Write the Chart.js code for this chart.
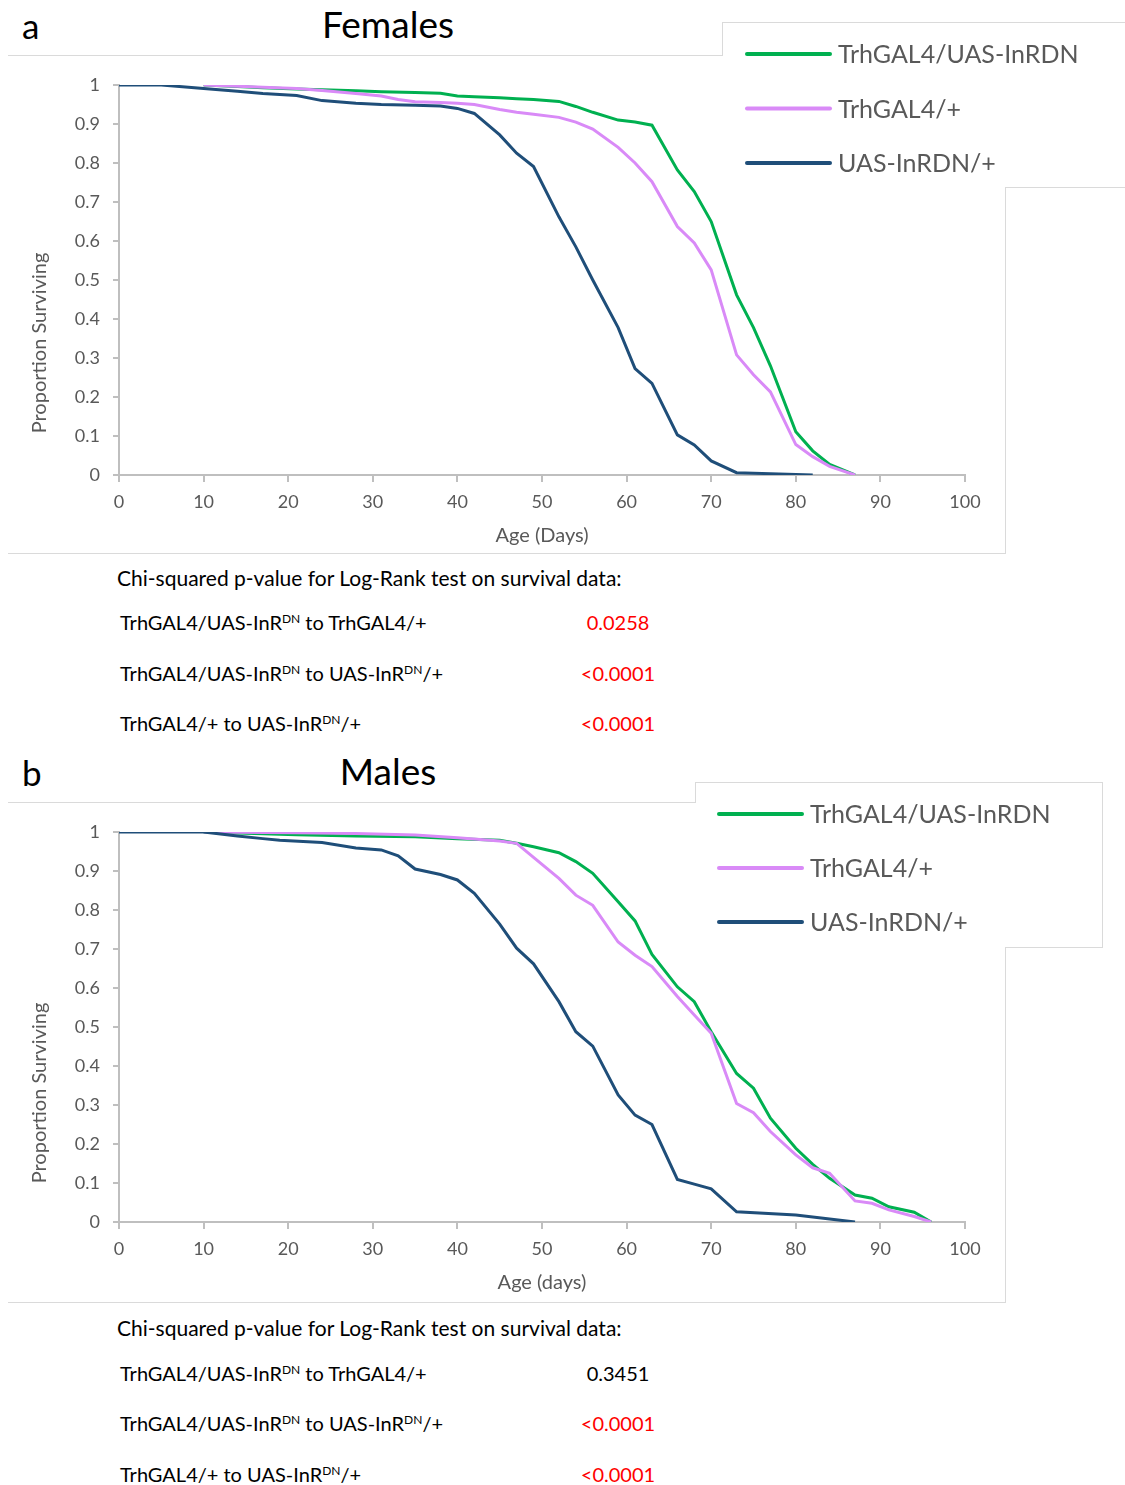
<!DOCTYPE html>
<html>
<head>
<meta charset="utf-8">
<script src="https://cdn.jsdelivr.net/npm/chart.js@4.4.0/dist/chart.umd.min.js"></script>
<style>
  body { margin: 0; background: #fff; font-family: Lato, "Open Sans", sans-serif; }
  #page { position: relative; width: 1125px; height: 1485px; overflow: hidden; background: #fff; }
  .box { position: absolute; border: 1px solid #dadada; box-sizing: border-box; }
  .box.open { border-left: none; }
  .fill { position: absolute; background: #fff; }
  .wrap { position: absolute; left: 0; width: 1125px; height: 560px; }
  .letter, .ptitle { position: absolute; font-size: 35px; line-height: 40px; color: #000; }
  .ptitle { width: 300px; text-align: center; font-size: 37px; }
  .line { position: absolute; height: 26px; line-height: 26px; font-size: 20px; color: #000; white-space: nowrap; }
  .val { position: absolute; width: 140px; text-align: center; height: 26px; line-height: 26px; font-size: 20px; }
  .red { color: #ff0000; }
  sup { font-size: 12px; vertical-align: 7px; line-height: 0; }
</style>
</head>
<body>
<div id="page">
  <!-- a : females (outline of chart box + legend box) -->
  <div class="box open" style="left:8px;top:55px;width:998px;height:499px;"></div>
  <div class="box" style="left:722px;top:22px;width:420px;height:166px;"></div>
  <div class="fill" style="left:8px;top:56px;width:997px;height:497px;"></div>
  <div class="fill" style="left:723px;top:23px;width:418px;height:164px;"></div>
  <div class="letter" style="left:22px;top:5px;">a</div>
  <div class="ptitle" style="left:238px;top:4px;">Females</div>
  <div class="wrap" style="top:0px;"><canvas id="females"></canvas></div>

  <div class="line" style="left:117px;top:565px;font-size:21px;">Chi-squared p-value for Log-Rank test on survival data:</div>
  <div class="line" style="left:120px;top:609px;">TrhGAL4/UAS-InR<sup>DN</sup> to TrhGAL4/+</div>
  <div class="val red" style="left:548px;top:609px;">0.0258</div>
  <div class="line" style="left:120px;top:660px;">TrhGAL4/UAS-InR<sup>DN</sup> to UAS-InR<sup>DN</sup>/+</div>
  <div class="val red" style="left:548px;top:660px;">&lt;0.0001</div>
  <div class="line" style="left:120px;top:710px;">TrhGAL4/+ to UAS-InR<sup>DN</sup>/+</div>
  <div class="val red" style="left:548px;top:710px;">&lt;0.0001</div>

  <!-- b : males -->
  <div class="box open" style="left:8px;top:802px;width:998px;height:501px;"></div>
  <div class="box" style="left:695px;top:782px;width:408px;height:166px;"></div>
  <div class="fill" style="left:8px;top:803px;width:997px;height:499px;"></div>
  <div class="fill" style="left:696px;top:783px;width:406px;height:164px;"></div>
  <div class="letter" style="left:22px;top:752px;">b</div>
  <div class="ptitle" style="left:238px;top:751px;">Males</div>
  <div class="wrap" style="top:747px;"><canvas id="males"></canvas></div>

  <div class="line" style="left:117px;top:1315px;font-size:21px;">Chi-squared p-value for Log-Rank test on survival data:</div>
  <div class="line" style="left:120px;top:1360px;">TrhGAL4/UAS-InR<sup>DN</sup> to TrhGAL4/+</div>
  <div class="val" style="left:548px;top:1360px;">0.3451</div>
  <div class="line" style="left:120px;top:1410px;">TrhGAL4/UAS-InR<sup>DN</sup> to UAS-InR<sup>DN</sup>/+</div>
  <div class="val red" style="left:548px;top:1410px;">&lt;0.0001</div>
  <div class="line" style="left:120px;top:1461px;">TrhGAL4/+ to UAS-InR<sup>DN</sup>/+</div>
  <div class="val red" style="left:548px;top:1461px;">&lt;0.0001</div>
</div>

<script>
// series names
const seriesLabels = ["TrhGAL4/UAS-InRDN", "TrhGAL4/+", "UAS-InRDN/+"];

// females - TrhGAL4/UAS-InRDN
const femExpDays = [10, 14, 17, 21, 24, 28, 31, 35, 38, 40, 42, 45, 47, 49, 52, 54, 56, 59, 61, 63, 66, 68, 70, 73, 75, 77, 80, 82, 84, 87];
const femExpSurv = [1, 0.996, 0.993, 0.99, 0.988, 0.985, 0.983, 0.981, 0.979, 0.972, 0.97, 0.967, 0.965, 0.963, 0.958, 0.945, 0.93, 0.91, 0.905, 0.897, 0.782, 0.727, 0.65, 0.462, 0.378, 0.28, 0.111, 0.062, 0.027, 0];
// females - TrhGAL4/+
const femGalDays = [10, 14, 17, 21, 24, 28, 31, 33, 35, 38, 40, 42, 45, 47, 49, 52, 54, 56, 59, 61, 63, 66, 68, 70, 73, 75, 77, 80, 82, 84, 87];
const femGalSurv = [1, 0.997, 0.994, 0.991, 0.986, 0.978, 0.972, 0.963, 0.957, 0.955, 0.953, 0.95, 0.937, 0.93, 0.925, 0.917, 0.905, 0.887, 0.84, 0.8, 0.752, 0.637, 0.595, 0.526, 0.308, 0.257, 0.213, 0.078, 0.047, 0.022, 0];
// females - UAS-InRDN/+
const femUasDays = [0, 5, 10, 14, 17, 21, 24, 28, 31, 35, 38, 40, 42, 45, 47, 49, 52, 54, 56, 59, 61, 63, 66, 68, 70, 73, 82];
const femUasSurv = [1, 1, 0.991, 0.984, 0.978, 0.973, 0.96, 0.953, 0.95, 0.948, 0.946, 0.94, 0.927, 0.872, 0.825, 0.791, 0.662, 0.585, 0.5, 0.378, 0.273, 0.235, 0.103, 0.077, 0.036, 0.006, 0];

// males - TrhGAL4/UAS-InRDN
const maleExpDays = [10, 21, 28, 35, 40, 45, 47, 49, 52, 54, 56, 59, 61, 63, 66, 68, 70, 73, 75, 77, 80, 82, 84, 87, 89, 91, 94, 96];
const maleExpSurv = [1, 0.993, 0.99, 0.988, 0.983, 0.979, 0.971, 0.962, 0.947, 0.924, 0.894, 0.821, 0.772, 0.686, 0.603, 0.565, 0.488, 0.381, 0.343, 0.266, 0.189, 0.148, 0.112, 0.069, 0.061, 0.039, 0.025, 0];
// males - TrhGAL4/+
const maleGalDays = [10, 21, 28, 35, 40, 45, 47, 49, 52, 54, 56, 59, 61, 63, 66, 68, 70, 73, 75, 77, 80, 82, 84, 87, 89, 91, 94, 96];
const maleGalSurv = [1, 0.998, 0.996, 0.992, 0.985, 0.977, 0.971, 0.935, 0.881, 0.838, 0.812, 0.718, 0.684, 0.655, 0.578, 0.531, 0.484, 0.304, 0.28, 0.232, 0.172, 0.139, 0.125, 0.054, 0.048, 0.031, 0.014, 0];
// males - UAS-InRDN/+
const maleUasDays = [0, 10, 14, 17, 19, 24, 28, 31, 33, 35, 38, 40, 42, 45, 47, 49, 52, 54, 56, 59, 61, 63, 66, 68, 70, 73, 80, 87];
const maleUasSurv = [1, 1, 0.99, 0.983, 0.979, 0.973, 0.959, 0.954, 0.939, 0.905, 0.891, 0.877, 0.843, 0.764, 0.702, 0.662, 0.565, 0.488, 0.451, 0.326, 0.274, 0.25, 0.109, 0.097, 0.085, 0.026, 0.018, 0];

const lineColors = ["#00b050", "#d98af7", "#1f4e79"];

const FONT = "Lato, 'Open Sans', sans-serif";
const GREY_TEXT = "#595959";
const GREY_AXIS = "#bfbfbf";

function toPoints(days, surv) {
  return days.map((d, i) => ({ x: d, y: surv[i] }));
}

// legend drawn at a fixed spot, like the excel legend box
const boxLegend = {
  id: "boxLegend",
  afterDraw(chart, args, opts) {
    const ctx = chart.ctx;
    ctx.save();
    chart.data.datasets.forEach((ds, i) => {
      const y = opts.y + i * opts.step;
      ctx.strokeStyle = ds.borderColor;
      ctx.lineWidth = 4;
      ctx.lineCap = "round";
      ctx.beginPath();
      ctx.moveTo(opts.x, y);
      ctx.lineTo(opts.x + 83, y);
      ctx.stroke();
      ctx.fillStyle = GREY_TEXT;
      ctx.font = "25px " + FONT;
      ctx.textBaseline = "middle";
      ctx.fillText(ds.label, opts.x + 91, y + 1);
    });
    ctx.restore();
  }
};

// y axis title sits lower than the middle of the axis in the original
const yTitle = {
  id: "yTitle",
  afterDraw(chart, args, opts) {
    const ctx = chart.ctx;
    ctx.save();
    ctx.translate(opts.x, opts.y);
    ctx.rotate(-Math.PI / 2);
    ctx.fillStyle = GREY_TEXT;
    ctx.font = "20px " + FONT;
    ctx.textAlign = "center";
    ctx.textBaseline = "middle";
    ctx.fillText("Proportion Surviving", 0, 0);
    ctx.restore();
  }
};

function drawSurvival(canvasId, sets, xTitle, legendPos, yTitlePos) {
  const datasets = sets.map((s, i) => ({
    label: seriesLabels[i],
    data: toPoints(s[0], s[1]),
    borderColor: lineColors[i],
    backgroundColor: lineColors[i],
    borderWidth: 3,
    pointRadius: 0,
    tension: 0,
    fill: false,
    order: 2 - i
  }));

  new Chart(document.getElementById(canvasId), {
    type: "line",
    data: { datasets },
    plugins: [boxLegend, yTitle],
    options: {
      responsive: true,
      maintainAspectRatio: false,
      animation: false,
      layout: { padding: { top: 85, right: 160, left: 0, bottom: 0 } },
      plugins: {
        legend: { display: false },
        tooltip: { enabled: false },
        boxLegend: legendPos,
        yTitle: yTitlePos
      },
      scales: {
        x: {
          type: "linear",
          min: 0,
          max: 100,
          ticks: { stepSize: 10, color: GREY_TEXT, font: { family: FONT, size: 18 }, padding: 9, maxRotation: 0 },
          grid: { drawOnChartArea: false, tickLength: 7, color: GREY_AXIS, lineWidth: 2 },
          border: { color: GREY_AXIS, width: 2 },
          title: { display: true, text: xTitle, color: GREY_TEXT, font: { family: FONT, size: 20 }, padding: { top: 0, bottom: 12 } },
          afterFit(scale) { scale.height = 85; }
        },
        y: {
          min: 0,
          max: 1,
          ticks: {
            stepSize: 0.1,
            color: GREY_TEXT,
            font: { family: FONT, size: 18 },
            padding: 13,
            callback: v => String(Number(v.toFixed(1)))
          },
          grid: { drawOnChartArea: false, tickLength: 6, color: GREY_AXIS, lineWidth: 2 },
          border: { color: GREY_AXIS, width: 2 },
          afterFit(scale) { scale.width = 119; }
        }
      }
    }
  });
}

drawSurvival("females",
  [[femExpDays, femExpSurv], [femGalDays, femGalSurv], [femUasDays, femUasSurv]],
  "Age (Days)", { x: 747, y: 54, step: 54.5 }, { x: 40, y: 343 });

drawSurvival("males",
  [[maleExpDays, maleExpSurv], [maleGalDays, maleGalSurv], [maleUasDays, maleUasSurv]],
  "Age (days)", { x: 719, y: 67, step: 54 }, { x: 40, y: 346 });
</script>
</body>
</html>
